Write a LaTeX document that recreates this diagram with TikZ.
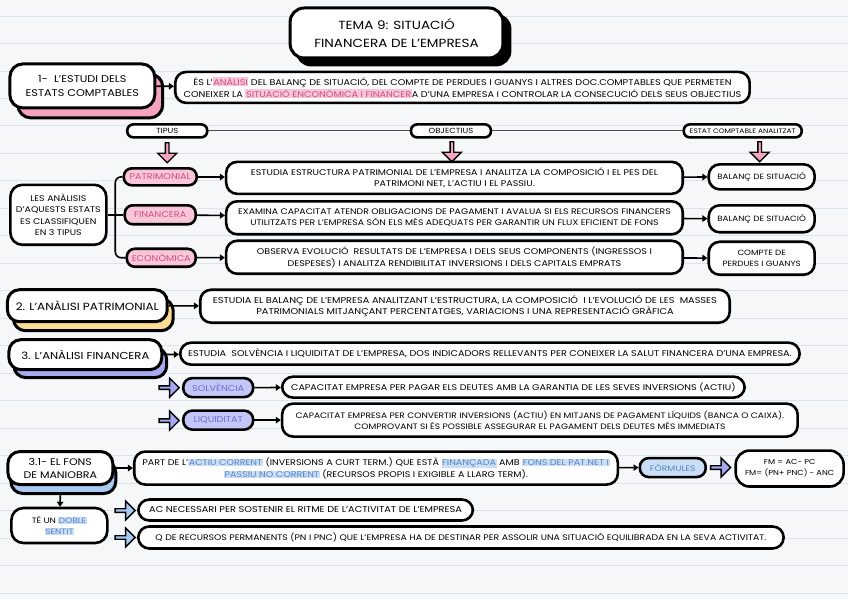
\documentclass[tikz,border=0pt]{standalone}
\usepackage{fontspec}
\setmainfont[FakeStretch=1.15]{Poppins}
\usetikzlibrary{shapes.arrows,shadows,arrows.meta}
\definecolor{bg}{HTML}{F6F7F9}
\definecolor{rulec}{HTML}{DCE3EC}
\definecolor{pinkf}{HTML}{F5A3C0}
\definecolor{pinkl}{HTML}{F8C6D8}
\definecolor{pinkt}{HTML}{CF4F7F}
\definecolor{yel}{HTML}{FBDC94}
\definecolor{purp}{HTML}{A4A9F0}
\definecolor{purpl}{HTML}{C3C6F6}
\definecolor{purpt}{HTML}{6A6ED6}
\definecolor{blu}{HTML}{A9CBF2}
\definecolor{blul}{HTML}{CADFF6}
\definecolor{blut}{HTML}{5784C8}
\newcommand\hlp[1]{{\setlength{\fboxsep}{0.6pt}\colorbox{pinkl}{\textcolor{pinkt}{#1}}}}
\newcommand\hlb[1]{{\setlength{\fboxsep}{0.6pt}\colorbox{blul}{\textcolor{blut}{#1}}}}
\tikzset{
 box/.style={draw=black, line width=2.6pt, fill=white, rounded corners=11pt, align=center, inner sep=1pt, font=\fontsize{8.3}{11.5}\selectfont},
 pill/.style={box, rounded corners=6pt, font=\fontsize{6.5}{8}\selectfont},
 tpill/.style={pill, rounded corners=8pt, font=\fontsize{8.4}{9}\selectfont},
 conn/.style={line width=1.6pt, -{Triangle[length=5pt,width=6.5pt]}},
 bar/.style={line width=1.2pt, draw=black!70},
 barrow/.style={single arrow, draw=black, line width=1.4pt, minimum height=20pt, minimum width=19pt, single arrow head extend=3pt, inner sep=0pt},
}
\begin{document}
\begin{tikzpicture}[x=1pt,y=-1pt]
\fill[bg] (0,0) rectangle (848,600);
\foreach \yy in {16,43.5,...,600} \draw[rulec, line width=0.8pt] (0,\yy) -- (848,\yy);
\useasboundingbox (0,0) rectangle (848,600);

% title
\node[box, line width=3pt, rounded corners=14pt, minimum width=213pt, minimum height=50pt, font=\fontsize{11.8}{18}\selectfont,
  copy shadow={shadow xshift=7pt, shadow yshift=-7pt, fill=black, draw=black}] (title) at (396.5,33) {TEMA 9: SITUACIÓ\\FINANCERA DE L'EMPRESA};

% section 1
\node[box, line width=3pt, rounded corners=13pt, minimum width=145pt, minimum height=44pt, font=\fontsize{9.8}{14}\selectfont,
  copy shadow={shadow xshift=8pt, shadow yshift=-10pt, fill=pinkf, draw=black, line width=3pt}] (b1) at (82,86) {1- \ L'ESTUDI DELS\\ESTATS COMPTABLES};
\node[box, minimum width=575pt, minimum height=31pt, font=\fontsize{8.4}{11.5}\selectfont] (d1) at (462.5,87.5) {ÉS L'\hlp{ANÀLISI} DEL BALANÇ DE SITUACIÓ, DEL COMPTE DE PERDUES I GUANYS I ALTRES DOC.COMPTABLES QUE PERMETEN\\CONEIXER LA \hlp{SITUACIÓ ENCONÒMICA I FINANCER}A D'UNA EMPRESA I CONTROLAR LA CONSECUCIÓ DELS SEUS OBJECTIUS};
\draw[conn] (b1) -- (d1);

% header row
\node[pill, minimum width=80pt, minimum height=13pt, font=\fontsize{7.4}{8}\selectfont] (tipus) at (167,131) {TIPUS};
\node[pill, minimum width=80pt, minimum height=13pt, font=\fontsize{7.4}{8}\selectfont] (obj) at (451,131) {OBJECTIUS};
\node[pill, minimum width=118pt, minimum height=13pt] (estat) at (743,131) {ESTAT COMPTABLE ANALITZAT};
\draw[bar] (tipus) -- (obj);
\draw[bar] (obj) -- (estat);
\node[barrow, fill=pinkf, shape border rotate=270] (pa1) at (167,152) {};
\node[barrow, fill=pinkf, shape border rotate=270] (pa2) at (452,151) {};
\node[barrow, fill=pinkf, shape border rotate=270] (pa3) at (760,151) {};

% types
\node[box, rounded corners=12pt, minimum width=96pt, minimum height=60pt, font=\fontsize{8.2}{11.5}\selectfont] (les) at (58,215) {LES ANÀLISIS\\D'AQUESTS ESTATS\\ES CLASSIFIQUEN\\EN 3 TIPUS};
\node[tpill, fill=pinkl, text=pinkt, minimum width=73pt, minimum height=17pt] (pat) at (160,177) {PATRIMONIAL};
\node[tpill, fill=pinkl, text=pinkt, minimum width=71pt, minimum height=19pt] (fin) at (160,215) {FINANCERA};
\node[tpill, fill=pinkl, text=pinkt, minimum width=69pt, minimum height=18pt] (eco) at (161,258) {ECONÒMICA};
\coordinate (jn) at (115,215);
\draw[line width=1.6pt, rounded corners=6pt] (pat.west) -| (jn) |- (eco.west);
\draw[line width=1.6pt] (les.east) -- (fin.west);

\node[box, minimum width=457pt, minimum height=32pt] (dA) at (454.5,178) {ESTUDIA ESTRUCTURA PATRIMONIAL DE L'EMPRESA I ANALITZA LA COMPOSICIÓ I EL PES DEL\\PATRIMONI NET, L'ACTIU I EL PASSIU.};
\node[box, minimum width=457pt, minimum height=33pt, font=\fontsize{8.1}{11.5}\selectfont] (dB) at (454.5,218) {EXAMINA CAPACITAT ATENDR OBLIGACIONS DE PAGAMENT I AVALUA SI ELS RECURSOS FINANCERS\\UTILITZATS PER L'EMPRESA SÓN ELS MÉS ADEQUATS PER GARANTIR UN FLUX EFICIENT DE FONS};
\node[box, minimum width=457pt, minimum height=33pt] (dC) at (454.5,257.5) {OBSERVA EVOLUCIÓ \ RESULTATS DE L'EMPRESA I DELS SEUS COMPONENTS (INGRESSOS I\\DESPESES) I ANALITZA RENDIBILITAT INVERSIONS I DELS CAPITALS EMPRATS};
\draw[conn] (pat) -- (dA);
\draw[conn] (fin) -- (dB);
\draw[conn] (eco) -- (dC);

\node[box, minimum width=106pt, minimum height=25pt, font=\fontsize{7.6}{10.5}\selectfont] (rA) at (762,177) {BALANÇ DE SITUACIÓ};
\node[box, minimum width=106pt, minimum height=27pt, font=\fontsize{7.6}{10.5}\selectfont] (rB) at (762,219) {BALANÇ DE SITUACIÓ};
\node[box, minimum width=106pt, minimum height=33pt, font=\fontsize{7.6}{11}\selectfont] (rC) at (762,258.5) {COMPTE DE\\PERDUES I GUANYS};
\draw[conn] (dA) -- (rA);
\draw[conn] (dB) -- (rB);
\draw[conn] (dC) -- (rC);

% section 2
\node[box, line width=3pt, rounded corners=12pt, minimum width=160pt, minimum height=32pt, font=\fontsize{10.4}{12}\selectfont,
  copy shadow={shadow xshift=6pt, shadow yshift=-9pt, fill=yel, draw=black, line width=3pt}] (s2) at (87,306) {2. L'ANÀLISI PATRIMONIAL};
\node[box, minimum width=530pt, minimum height=33pt, font=\fontsize{8.5}{11.5}\selectfont] (d2) at (465,306.5) {ESTUDIA EL BALANÇ DE L'EMPRESA ANALITZANT L'ESTRUCTURA, LA COMPOSICIÓ \ I L'EVOLUCIÓ DE LES \ MASSES\\PATRIMONIALS MITJANÇANT PERCENTATGES, VARIACIONS I UNA REPRESENTACIÓ GRÀFICA};
\draw[conn] (s2) -- (d2);

% section 3
\node[box, line width=3pt, rounded corners=12pt, minimum width=153pt, minimum height=30pt, font=\fontsize{10.1}{12}\selectfont,
  copy shadow={shadow xshift=5pt, shadow yshift=-8pt, fill=purp, draw=black, line width=3pt}] (s3) at (85,355) {3. L'ANÀLISI FINANCERA};
\node[box, minimum width=620pt, minimum height=22pt, font=\fontsize{8.4}{11}\selectfont] (d3) at (490,354) {ESTUDIA \ SOLVÈNCIA I LIQUIDITAT DE L'EMPRESA, DOS INDICADORS RELLEVANTS PER CONEIXER LA SALUT FINANCERA D'UNA EMPRESA.};
\draw[conn] (s3) -- (d3);

\node[barrow, fill=purp] (ba1) at (168,388) {};
\node[tpill, fill=purpl, text=purpt, rounded corners=9pt, minimum width=70pt, minimum height=19pt] (solv) at (218,388) {SOLVÈNCIA};
\node[box, minimum width=463pt, minimum height=21pt] (ds) at (513.5,387.5) {CAPACITAT EMPRESA PER PAGAR ELS DEUTES AMB LA GARANTIA DE LES SEVES INVERSIONS (ACTIU)};
\draw[conn] (solv) -- (ds);

\node[barrow, fill=purp] (ba2) at (168,421) {};
\node[tpill, fill=purpl, text=purpt, rounded corners=9pt, minimum width=70pt, minimum height=19pt] (liq) at (218,420.5) {LIQUIDITAT};
\node[box, minimum width=516pt, minimum height=33pt, font=\fontsize{7.9}{11.5}\selectfont] (dl) at (540,420.5) {CAPACITAT EMPRESA PER CONVERTIR INVERSIONS (ACTIU) EN MITJANS DE PAGAMENT LÍQUIDS (BANCA O CAIXA).\\COMPROVANT SI ÉS POSSIBLE ASSEGURAR EL PAGAMENT DELS DEUTES MÉS IMMEDIATS};
\draw[conn] (liq) -- (dl);

% section 3.1
\node[box, line width=3pt, rounded corners=12pt, minimum width=105pt, minimum height=33pt, font=\fontsize{9.6}{13}\selectfont,
  copy shadow={shadow xshift=3pt, shadow yshift=-9pt, fill=blu, draw=black, line width=3pt}] (s31) at (60,468.5) {3.1- EL FONS\\DE MANIOBRA};
\node[box, minimum width=484pt, minimum height=33pt, font=\fontsize{8.3}{12}\selectfont] (d31) at (376,468.5) {PART DE L'\hlb{ACTIU CORRENT} (INVERSIONS A CURT TERM.) QUE ESTÀ \hlb{FINANÇADA} AMB \hlb{FONS DEL PAT.NET I}\\\hlb{PASSIU NO CORRENT} (RECURSOS PROPIS I EXIGIBLE A LLARG TERM).};
\draw[conn] (s31) -- (d31);
\node[tpill, fill=blul, text=blut, rounded corners=9pt, minimum width=66pt, minimum height=19pt, font=\fontsize{8}{9}\selectfont] (form) at (673,468) {FÒRMULES};
\draw[conn] (d31) -- (form);
\node[barrow, fill=purp] (ba3) at (720,468) {};
\node[box, rounded corners=14pt, minimum width=108pt, minimum height=36pt, font=\fontsize{7.2}{11}\selectfont] (fm) at (790,469) {FM = AC- PC\\FM= (PN+ PNC) - ANC};

\node[box, rounded corners=12pt, minimum width=96pt, minimum height=35pt, font=\fontsize{7.8}{11}\selectfont] (doble) at (59,526) {TÉ UN \hlb{DOBLE}\\\hlb{SENTIT}};
\draw[conn] ([yshift=-9pt]s31.south) -- (doble);
\node[barrow, fill=blu] (bb1) at (124,511) {};
\node[barrow, fill=blu] (bb2) at (124,538) {};
\node[box, minimum width=335pt, minimum height=21pt, font=\fontsize{8.5}{11}\selectfont] (dac) at (305.5,510.5) {AC NECESSARI PER SOSTENIR EL RITME DE L'ACTIVITAT DE L'EMPRESA};
\node[box, minimum width=646pt, minimum height=22pt, font=\fontsize{8.1}{11}\selectfont] (dq) at (461,538) {Q DE RECURSOS PERMANENTS (PN I PNC) QUE L'EMPRESA HA DE DESTINAR PER ASSOLIR UNA SITUACIÓ EQUILIBRADA EN LA SEVA ACTIVITAT.};
\end{tikzpicture}
\end{document}
